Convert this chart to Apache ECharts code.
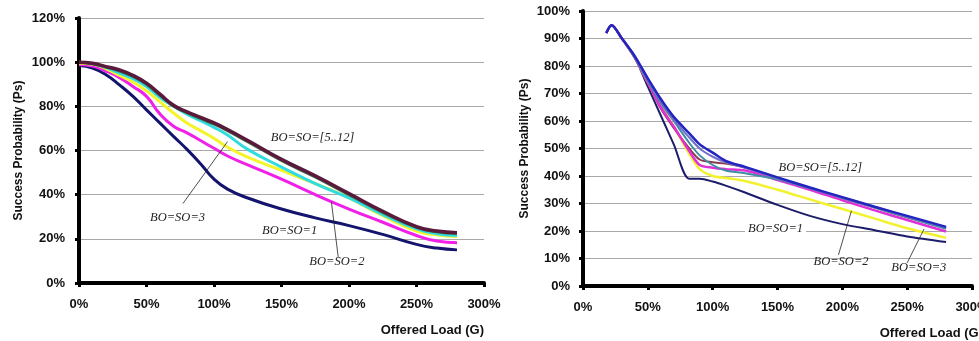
<!DOCTYPE html>
<html>
<head>
<meta charset="utf-8">
<script src="https://cdn.jsdelivr.net/npm/echarts@6/dist/echarts.min.js"></script>
<style>
html,body{margin:0;padding:0;background:#fff;}
#c{width:979px;height:341px;}
</style>
</head>
<body>
<div id="c"></div>
<script>
// ---------- Data ----------
// Left chart: offered load (%) values
var loadLeft = [0,10,20,30,40,50,60,70,80,90,100,110,125,150,175,200,225,250,265,280];
var leftBoSo1  = [98.5,97.3,94.3,89.7,84.5,78.4,72.4,66.4,60.5,54,47,42.5,38.5,33.5,29.5,26,22,17.5,15.8,15];
var leftBoSo2  = [99,98.3,96,93,89,84.5,76.5,71,68,64.5,61,57.5,53.5,47,40,33.5,27.5,21.5,19,18.2];
var leftBoSo3  = [99.5,99,97,94,91,87,82,77,72.5,69,65.5,61.5,57,51,45,38.5,30.5,23.5,21.8,21];
var leftBoSo4  = [100,99.3,97.5,95,92.5,89,84,80,76.5,73.5,70.5,67,60.5,52.5,45,38.5,31,24.5,22.3,21.5];
var leftBoSo5g = [100,99.3,97.8,96,93.5,90,85,80.2,77.2,74.5,72,69,64,55.5,48,40,32,25.2,23.2,22.5];
var leftBoSo5  = [100,99.5,98,96.5,94,90.5,85.5,80.5,77.5,75,72.5,69.5,64.5,56,48.5,40.5,32.5,25.5,23.5,22.8];

// Right chart: offered load (%) values
var loadRight = [18,22,30,40,50,60,70,82,90,100,110,125,150,175,200,225,250,280];
var rightBoSo1 = [92,94.8,90,83,72.5,62,51.5,39,39,38,36.5,34,29.5,25.5,22.5,20.3,18,16];
var rightBoSo2 = [92,94.8,90,83,74,65.5,58,48,42.5,40,39.3,38.2,35,31.5,28,24.5,21,17.5];
var rightBoSo3 = [92,94.8,90,83,74,65,58,49,44,43,42.5,42,38.5,35,31.2,27.5,24,19.8];
var rightBoSo4 = [92,94.8,90,83,74.5,66.5,60,52,47.5,44,42,41,38.8,35.5,32,28.5,25,20.8];
var rightBoSoR = [92,94.8,90,83,74,64.5,57.5,50,46,45,44.5,43,39.2,35.5,32,28.5,25,21];
var rightBoSoP = [92,94.8,90,83.5,75,67,60.5,54,50,47,45,43,39.3,35.7,32.2,28.7,25.3,21.3];
var rightBoSo5 = [92,94.8,90,83.5,75.5,68,61.5,55.5,51.5,48.5,45.5,43.3,39.5,35.8,32.3,28.8,25.5,21.5];

// Tick settings
var leftYMax = 120, leftYStep = 20;
var rightYMax = 100, rightYStep = 10;
var xMax = 300, xStep = 50;

// Annotation texts
var labelMany = 'BO=SO=[5..12]';
var label1 = 'BO=SO=1';
var label2 = 'BO=SO=2';
var label3 = 'BO=SO=3';

function pairs(xs, ys){ return xs.map(function(x,i){ return [x, ys[i]]; }); }

var sansBold = {fontFamily:'Liberation Sans, Arial, sans-serif', fontWeight:'bold', color:'#111'};
var noteFont = {fontFamily:'Liberation Serif, Times New Roman, serif', fontStyle:'italic', fontSize:12.5, color:'#222'};

function xAx(idx, gap){
  return {
    type:'value', gridIndex:idx, min:0, max:xMax, interval:xStep,
    name:'Offered Load (G)', nameLocation:'end', nameGap:gap,
    nameTextStyle:Object.assign({fontSize:13, align:'right', verticalAlign:'top', padding:[41,0,0,0]}, sansBold),
    axisLine:{show:true, onZero:false, lineStyle:{color:'#000', width:4}},
    axisTick:{show:true, length:4, lineStyle:{color:'#000', width:3}},
    axisLabel:Object.assign({fontSize:13, margin:15, formatter:'{value}%'}, sansBold),
    splitLine:{show:false}
  };
}
function yAx(idx, max, step, gap, margin){
  return {
    type:'value', gridIndex:idx, min:0, max:max, interval:step,
    name:'Success Probability (Ps)', nameLocation:'middle', nameGap:gap,
    nameTextStyle:Object.assign({fontSize:12}, sansBold),
    axisLine:{show:true, onZero:false, lineStyle:{color:'#000', width:4}},
    axisTick:{show:true, length:4, lineStyle:{color:'#000', width:3}},
    axisLabel:Object.assign({fontSize:13, margin:margin, formatter:'{value}%'}, sansBold),
    splitLine:{show:true, lineStyle:{color:'#a8a8a8', width:1}}
  };
}
function line(idx, xs, ys, color, width, smooth){
  return {type:'line', xAxisIndex:idx, yAxisIndex:idx, data:pairs(xs, ys), showSymbol:false, symbol:'none',
    smooth:smooth, lineStyle:{color:color, width:width}, itemStyle:{color:color}, z:3, silent:true};
}
function notes(idx, texts, leaders){
  return {type:'line', xAxisIndex:idx, yAxisIndex:idx, data:[], silent:true, z:10,
    markLine:{silent:true, symbol:['none','none'], animation:false,
      lineStyle:{color:'#222', width:0.8, type:'solid'}, label:{show:false},
      data:leaders.map(function(l){ return [{coord:l[0]},{coord:l[1]}]; })},
    markPoint:{silent:true, animation:false, symbol:'rect', symbolSize:[1,1], itemStyle:{color:'rgba(0,0,0,0)'},
      data:texts.map(function(t){
        return {coord:t.c, label:Object.assign({show:true, position:'inside', formatter:t.t,
          backgroundColor:t.bg ? '#fff' : 'transparent', padding:t.bg ? [1,3,1,3] : 0}, noteFont)};
      })}
  };
}

var chart = echarts.init(document.getElementById('c'), null, {renderer:'canvas'});
chart.setOption({
  animation:false,
  backgroundColor:'#fff',
  grid:[
    {left:79, top:18, width:405, height:265, containLabel:false, outerBoundsMode:'none'},
    {left:583, top:11, width:389, height:275, containLabel:false, outerBoundsMode:'none'}
  ],
  xAxis:[xAx(0, 0), xAx(1, 11)],
  yAxis:[yAx(0, leftYMax, leftYStep, 54, 14), yAx(1, rightYMax, rightYStep, 52, 13)],
  series:[
    line(0, loadLeft, leftBoSo1, '#14146e', 3, 0.5),
    line(0, loadLeft, leftBoSo2, '#f020e8', 3, 0.5),
    line(0, loadLeft, leftBoSo3, '#f4f42a', 3, 0.5),
    line(0, loadLeft, leftBoSo4, '#30dce0', 3, 0.5),
    line(0, loadLeft, leftBoSo5g, '#3c6e46', 3, 0.5),
    line(0, loadLeft, leftBoSo5, '#5a1a3c', 3.5, 0.5),
    notes(0, [
      {t:labelMany, c:[173,66]},
      {t:label3, c:[73,29.5]},
      {t:label1, c:[156,23.5], bg:true},
      {t:label2, c:[191,9.5]}
    ], [
      [[77,36],[110,64]],
      [[192,11.8],[187,36.6]]
    ]),
    line(1, loadRight, rightBoSo1, '#1c1c6a', 2, 0.3),
    line(1, loadRight, rightBoSo2, '#f2f230', 2.5, 0.3),
    line(1, loadRight, rightBoSoR, '#8a3a48', 2, 0.3),
    line(1, loadRight, rightBoSo3, '#e030d8', 2.5, 0.3),
    line(1, loadRight, rightBoSo4, '#3e8ea6', 2, 0.3),
    line(1, loadRight, rightBoSoP, '#7070c8', 2, 0.3),
    line(1, loadRight, rightBoSo5, '#2424c0', 2.5, 0.3),
    notes(1, [
      {t:labelMany, c:[183,43]},
      {t:label1, c:[148.5,20.7], bg:true},
      {t:label2, c:[199,8.7]},
      {t:label3, c:[259,6.5]}
    ], [
      [[197,11.3],[207,27.3]],
      [[250,8.4],[263,20.7]]
    ])
  ]
});
</script>
</body>
</html>
